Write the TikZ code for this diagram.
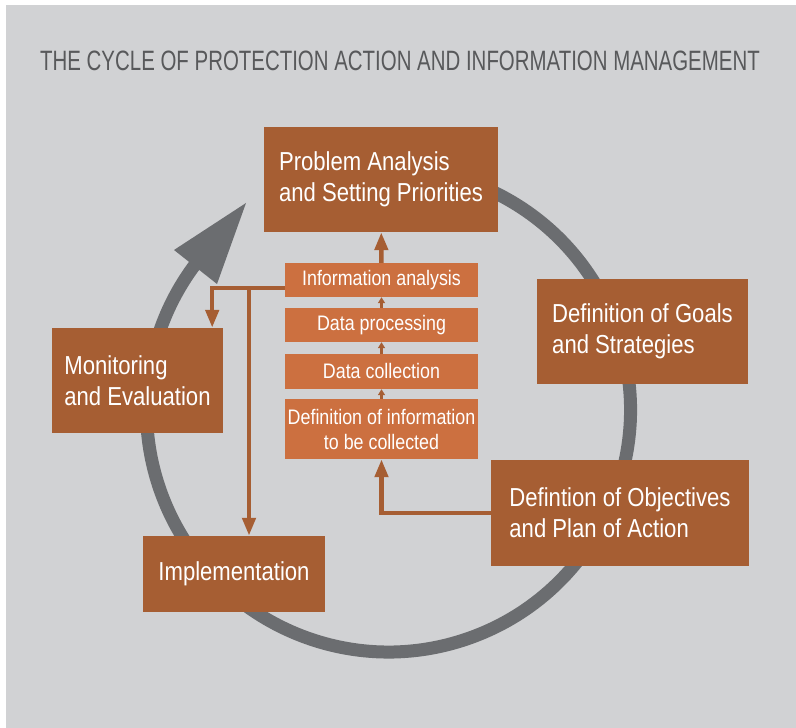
\documentclass[tikz,border=0pt]{standalone}
\usepackage{fontspec}
\setmainfont[FakeStretch=0.85]{Liberation Sans}
\newfontfamily\titlefont[FakeStretch=0.73]{Liberation Sans}
\usetikzlibrary{arrows.meta,positioning,calc}

\definecolor{bggray}{HTML}{D1D2D4}
\definecolor{ringgray}{HTML}{6B6D70}
\definecolor{darkbrown}{HTML}{A65E33}
\definecolor{lightbrown}{HTML}{CC7040}
\definecolor{titlegray}{HTML}{58595B}

\begin{document}
\begin{tikzpicture}[x=1pt, y=1pt,
    bigbox/.style={fill=darkbrown, text=white, inner sep=0pt,
      align=left, font=\fontsize{26}{31}\selectfont},
    infobox/.style={fill=lightbrown, text=white, minimum width=193pt, inner sep=0pt,
      align=center, font=\fontsize{21}{25}\selectfont},
    link/.style={draw=darkbrown, line width=4.5pt, -{Triangle[length=18pt,width=13pt]}},
    shortlink/.style={draw=darkbrown, line width=2.5pt, -{Triangle[length=6pt,width=7pt]}},
    ring/.style={draw=ringgray, line width=13pt}]
  \useasboundingbox (0,0) rectangle (796,728);
  \fill[bggray] (6,0) rectangle (796,723);

  % title
  \node[anchor=base west, inner sep=0pt, text=titlegray, font=\titlefont\fontsize{28}{32}\selectfont]
    (title) at (40,657) {THE CYCLE OF PROTECTION ACTION AND INFORMATION MANAGEMENT};

  % the cycle behind the boxes
  \coordinate (hub) at (388.5,318);
  \draw[ring] (hub) ++(110:242) arc[start angle=110, end angle=-217, radius=242];
  \fill[ringgray] (246,525) -- (174,478) -- (217,444) -- cycle;

  % main steps
  \node[bigbox, minimum width=234pt, minimum height=105pt] (prob) at (381,548.5)
    {Problem Analysis\\and Setting Priorities};
  \node[bigbox, minimum width=211pt, minimum height=105pt] (goals) at (642.5,396.5)
    {Definition of Goals\\and Strategies};
  \node[bigbox, minimum width=258pt, minimum height=106pt] (obj) at (620,215)
    {Defintion of Objectives\\and Plan of Action};
  \node[bigbox, minimum width=182pt, minimum height=76pt] (impl) at (234,154)
    {Implementation};
  \node[bigbox, minimum width=171pt, minimum height=105pt] (mon) at (137.5,347.5)
    {Monitoring\\and Evaluation};

  % information management
  \node[infobox, minimum height=34pt] (ia) at (381.5,448) {Information analysis};
  \node[infobox, minimum height=34pt] (dp) at (381.5,403) {Data processing};
  \node[infobox, minimum height=35pt] (dc) at (381.5,356.5) {Data collection};
  \node[infobox, minimum height=60pt] (di) at (381.5,299) {Definition of information\\to be collected};

  \foreach \a/\b in {di/dc,dc/dp,dp/ia}{
    \draw[shortlink] (\a) -- (\b);
  }
  \draw[link] (ia) -- (prob);
  \draw[link] (obj.west) -| (di.south);
  \draw[link] ([yshift=-8pt]ia.west) -| ([xshift=-11pt]mon.north east);
  \coordinate (split) at (249,440);
  \draw[link] (split) -- (split |- impl.north);
\end{tikzpicture}
\end{document}
